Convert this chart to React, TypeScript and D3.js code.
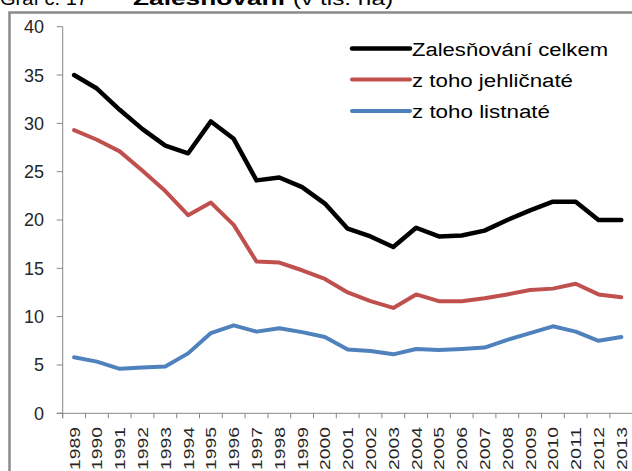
import React from "react";
import * as d3 from "d3";

const years = ["1989","1990","1991","1992","1993","1994","1995","1996","1997","1998","1999","2000","2001","2002","2003","2004","2005","2006","2007","2008","2009","2010","2011","2012","2013"];
const total = [35.0,33.6,31.4,29.4,27.7,26.9,30.2,28.4,24.1,24.4,23.4,21.7,19.1,18.3,17.2,19.2,18.3,18.4,18.9,20.0,21.0,21.9,21.9,20.0,20.0];
const conifer = [29.3,28.3,27.1,25.1,23.0,20.5,21.8,19.5,15.7,15.6,14.8,13.9,12.5,11.6,10.9,12.3,11.6,11.6,11.9,12.3,12.75,12.9,13.4,12.3,12.0];
const broadleaf = [5.8,5.35,4.6,4.75,4.85,6.2,8.3,9.1,8.45,8.8,8.4,7.9,6.6,6.45,6.1,6.65,6.55,6.65,6.8,7.6,8.3,9.0,8.45,7.5,7.9];
const yTicks = [0,5,10,15,20,25,30,35,40];
const seriesNames = ["Zalesňování celkem","z toho jehličnaté","z toho listnaté"];
const seriesColors = ["#000000","#C0504D","#4F81BD"];
const legendWidths = [196,161,138];

export default function App() {
  const W = 632, H = 471;
  const x0 = 62.7, x1 = 632.7, yTop = 26.7, yBot = 413.3;
  const x = d3.scaleBand<string>().domain(years).range([x0, x1]).padding(0);
  const y = d3.scaleLinear().domain([0, 40]).range([yBot, yTop]);
  const bw = x.bandwidth();
  const line = d3.line<number>()
    .x((_, i) => (x(years[i]) as number) + bw / 2)
    .y((d) => y(d));
  const data = [total, conifer, broadleaf];
  const widths = [4.5, 4, 4];
  const axisColor = "#868686";
  const font = "'Liberation Sans', Arial, sans-serif";
  const boundaries = years.map((yr) => x(yr) as number).concat([x1]);
  return (
    <svg width={W} height={H} style={{ position: "absolute", left: 0, top: 0 }} fontFamily={font}>
      <rect x={0} y={0} width={W} height={H} fill="#fff" />
      {/* title, mostly cut off */}
      <text x={0} y={5} fontSize={19} fill="#000" textLength={88} lengthAdjust="spacingAndGlyphs">Graf č. 17</text>
      <text x={133} y={5} fontSize={19} fontWeight="bold" fill="#000" textLength={152} lengthAdjust="spacingAndGlyphs">Zalesňování</text>
      <text x={293} y={5} fontSize={19} fill="#000" textLength={100} lengthAdjust="spacingAndGlyphs">(v tis. ha)</text>
      {/* frame */}
      <rect x={9.5} y={12.5} width={W + 20} height={H + 20} fill="none" stroke="#8a8a8a" strokeWidth={2.5} />
      {/* y axis */}
      <line x1={x0} x2={x0} y1={yTop} y2={yBot + 5} stroke={axisColor} strokeWidth={1} />
      {yTicks.map((t) => (
        <g key={t}>
          <line x1={x0 - 6} x2={x0} y1={y(t)} y2={y(t)} stroke={axisColor} strokeWidth={1} />
          <text x={44} y={y(t)} dy="0.36em" textAnchor="end" fontSize={18} fill="#262626">{t}</text>
        </g>
      ))}
      {/* x axis */}
      <line x1={x0 - 6} x2={x1} y1={yBot} y2={yBot} stroke={axisColor} strokeWidth={1} />
      {boundaries.map((b, i) => (
        <line key={i} x1={b} x2={b} y1={yBot} y2={yBot + 5} stroke={axisColor} strokeWidth={1} />
      ))}
      {years.map((yr) => {
        const cx = (x(yr) as number) + bw / 2;
        const ty = 427;
        return (
          <text key={yr} transform={`translate(${cx},${ty}) rotate(-90)`} dy="0.36em" textAnchor="end"
            fontSize={15} fill="#262626" textLength={43} lengthAdjust="spacingAndGlyphs">{yr}</text>
        );
      })}
      {/* series */}
      {data.map((d, i) => (
        <path key={i} d={line(d) as string} fill="none" stroke={seriesColors[i]} strokeWidth={widths[i]}
          strokeLinejoin="round" strokeLinecap="round" />
      ))}
      {/* legend */}
      {seriesNames.map((n, i) => {
        const ly = [48.5, 79.5, 111][i];
        return (
          <g key={n}>
            <line x1={352} x2={410} y1={ly} y2={ly} stroke={seriesColors[i]} strokeWidth={widths[i]} strokeLinecap="round" />
            <text x={412} y={ly + 1} dy="0.36em" fontSize={18} fill="#000" textLength={legendWidths[i]} lengthAdjust="spacingAndGlyphs">{n}</text>
          </g>
        );
      })}
    </svg>
  );
}
